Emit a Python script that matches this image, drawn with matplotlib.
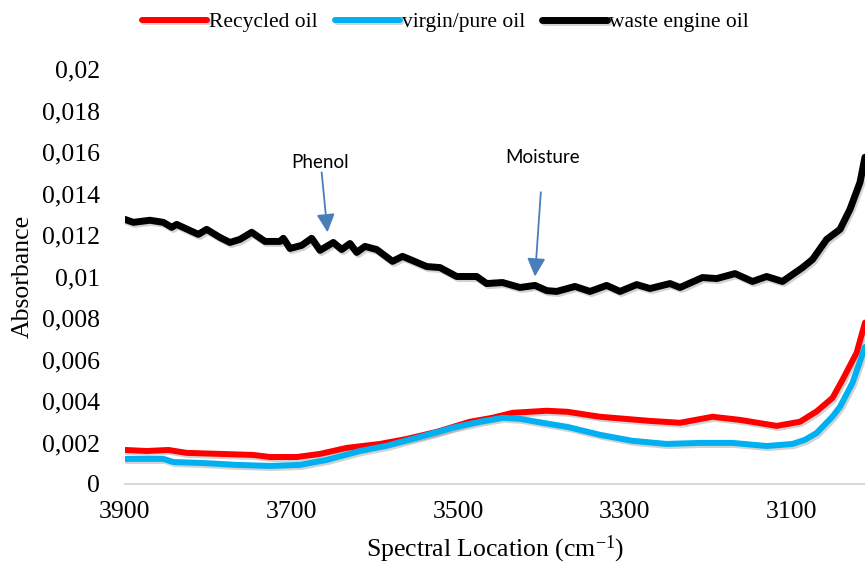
import matplotlib
matplotlib.use("Agg")
import matplotlib.pyplot as plt
import matplotlib.patheffects as pe
from matplotlib.ticker import FixedLocator, FuncFormatter

plt.rcParams['font.family'] = ['Liberation Serif', 'DejaVu Serif']
plt.rcParams['mathtext.fontset'] = 'custom'
plt.rcParams['mathtext.rm'] = 'Liberation Serif'
plt.rcParams['mathtext.it'] = 'Liberation Serif:italic'

# FTIR absorbance spectra, 3900-3012 cm-1
waste_wn = [3900, 3890, 3870, 3854, 3844, 3838, 3812, 3802, 3786, 3774, 3762, 3748,
            3732, 3714, 3710, 3702, 3688, 3676, 3666, 3650, 3640, 3630, 3622, 3612,
            3598, 3579, 3567, 3555, 3538, 3522, 3502, 3478, 3466, 3447, 3426, 3408,
            3394, 3382, 3360, 3342, 3322, 3306, 3286, 3270, 3246, 3234, 3207, 3190,
            3168, 3147, 3130, 3111, 3087, 3075, 3058, 3042, 3030, 3018, 3012]
waste_abs = [0.01275, 0.01261, 0.01271, 0.01261, 0.01237, 0.01251, 0.01203, 0.01227,
             0.01188, 0.01164, 0.01179, 0.01213, 0.01169, 0.01169, 0.01184, 0.01135,
             0.01150, 0.01184, 0.01126, 0.01164, 0.01130, 0.01159, 0.01116, 0.01145,
             0.01130, 0.01073, 0.01097, 0.01077, 0.01048, 0.01043, 0.01000, 0.01000,
             0.00966, 0.00971, 0.00947, 0.00957, 0.00932, 0.00928, 0.00952, 0.00928,
             0.00957, 0.00928, 0.00961, 0.00942, 0.00966, 0.00947, 0.00995, 0.00990,
             0.01014, 0.00976, 0.01000, 0.00976, 0.01043, 0.01082, 0.01179, 0.01227,
             0.01324, 0.01454, 0.01575]

recycled_wn = [3900, 3874, 3848, 3826, 3786, 3746, 3726, 3694, 3666, 3634, 3594, 3562,
               3526, 3486, 3459, 3435, 3394, 3369, 3330, 3270, 3234, 3195, 3162, 3118,
               3090, 3070, 3051, 3039, 3022, 3012]
recycled_abs = [0.00164, 0.00159, 0.00164, 0.00150, 0.00145, 0.00140, 0.00130, 0.00130,
                0.00145, 0.00174, 0.00193, 0.00217, 0.00251, 0.00300, 0.00319, 0.00343,
                0.00353, 0.00348, 0.00324, 0.00304, 0.00295, 0.00324, 0.00309, 0.00280,
                0.00300, 0.00350, 0.00415, 0.00502, 0.00633, 0.00778]

virgin_wn = [3900, 3854, 3842, 3806, 3766, 3726, 3690, 3658, 3618, 3586, 3546, 3507,
             3474, 3447, 3426, 3399, 3369, 3330, 3291, 3250, 3210, 3171, 3130, 3099,
             3084, 3070, 3051, 3042, 3027, 3012]
virgin_abs = [0.00121, 0.00121, 0.00106, 0.00101, 0.00092, 0.00087, 0.00092, 0.00116,
              0.00159, 0.00184, 0.00227, 0.00271, 0.00300, 0.00319, 0.00314, 0.00295,
              0.00275, 0.00237, 0.00208, 0.00193, 0.00198, 0.00198, 0.00183, 0.00193,
              0.00213, 0.00246, 0.00325, 0.00372, 0.00488, 0.00660]

x_ticks = [3900, 3700, 3500, 3300, 3100]
y_ticks = [0, 0.002, 0.004, 0.006, 0.008, 0.010, 0.012, 0.014, 0.016, 0.018, 0.020]

fig = plt.figure(figsize=(8.65, 5.66), dpi=100)
ax = fig.add_axes([0.1445, 0.1449, 0.8555, 0.7332])

shadow = [pe.SimpleLineShadow(offset=(1.2, -1.5), shadow_color='gray', alpha=0.35),
          pe.Normal()]

ax.plot(recycled_wn, recycled_abs, color='#FF0000', lw=4.3,
        solid_capstyle='round', solid_joinstyle='round',
        label='Recycled oil', path_effects=shadow)
ax.plot(virgin_wn, virgin_abs, color='#00B0F0', lw=4.3,
        solid_capstyle='round', solid_joinstyle='round',
        label='virgin/pure oil', path_effects=shadow)
ax.plot(waste_wn, waste_abs, color='#000000', lw=5.0,
        solid_capstyle='round', solid_joinstyle='round',
        label='waste engine oil', path_effects=shadow)

ax.set_xlim(3900, 3012)
ax.set_ylim(0, 0.02)
ax.xaxis.set_major_locator(FixedLocator(x_ticks))
ax.yaxis.set_major_locator(FixedLocator(y_ticks))


def comma_fmt(v, pos):
    if abs(v) < 1e-12:
        return '0'
    s = ('%.3f' % v).rstrip('0')
    return s.replace('.', ',')


ax.yaxis.set_major_formatter(FuncFormatter(comma_fmt))
ax.tick_params(axis='both', length=0, labelsize=18.5)
ax.tick_params(axis='y', pad=18)
ax.tick_params(axis='x', pad=12)

for side in ('top', 'right', 'left'):
    ax.spines[side].set_visible(False)
ax.spines['bottom'].set_color('#D9D9D9')
ax.spines['bottom'].set_linewidth(1.5)

ax.set_ylabel('Absorbance', fontsize=18.5, labelpad=6)
ax.set_xlabel('Spectral Location (cm$^{\\mathregular{-1}}$)', fontsize=18.5, labelpad=8)

arrow_color = '#4A7EBB'
note_font = ['Lato', 'DejaVu Sans']
arrow_style = dict(arrowstyle='-|>,head_length=1.1,head_width=0.55',
                   color=arrow_color, lw=1.3, shrinkA=0, shrinkB=0)
ax.text(3666, 0.01551, 'Phenol', family=note_font, fontsize=13.5,
        ha='center', va='center', color='#000000')
ax.annotate('', xy=(3657, 0.01213), xytext=(3664, 0.01502), arrowprops=arrow_style)
ax.text(3399, 0.01575, 'Moisture', family=note_font, fontsize=13.5,
        ha='center', va='center', color='#000000')
ax.annotate('', xy=(3408, 0.01000), xytext=(3401, 0.01406), arrowprops=arrow_style)

fig.legend(loc='center', bbox_to_anchor=(0.515, 0.961), ncol=3, frameon=False,
           fontsize=15.5, handlelength=3.0, handletextpad=0.1, columnspacing=0.8)

fig.savefig('out.png', dpi=100)
